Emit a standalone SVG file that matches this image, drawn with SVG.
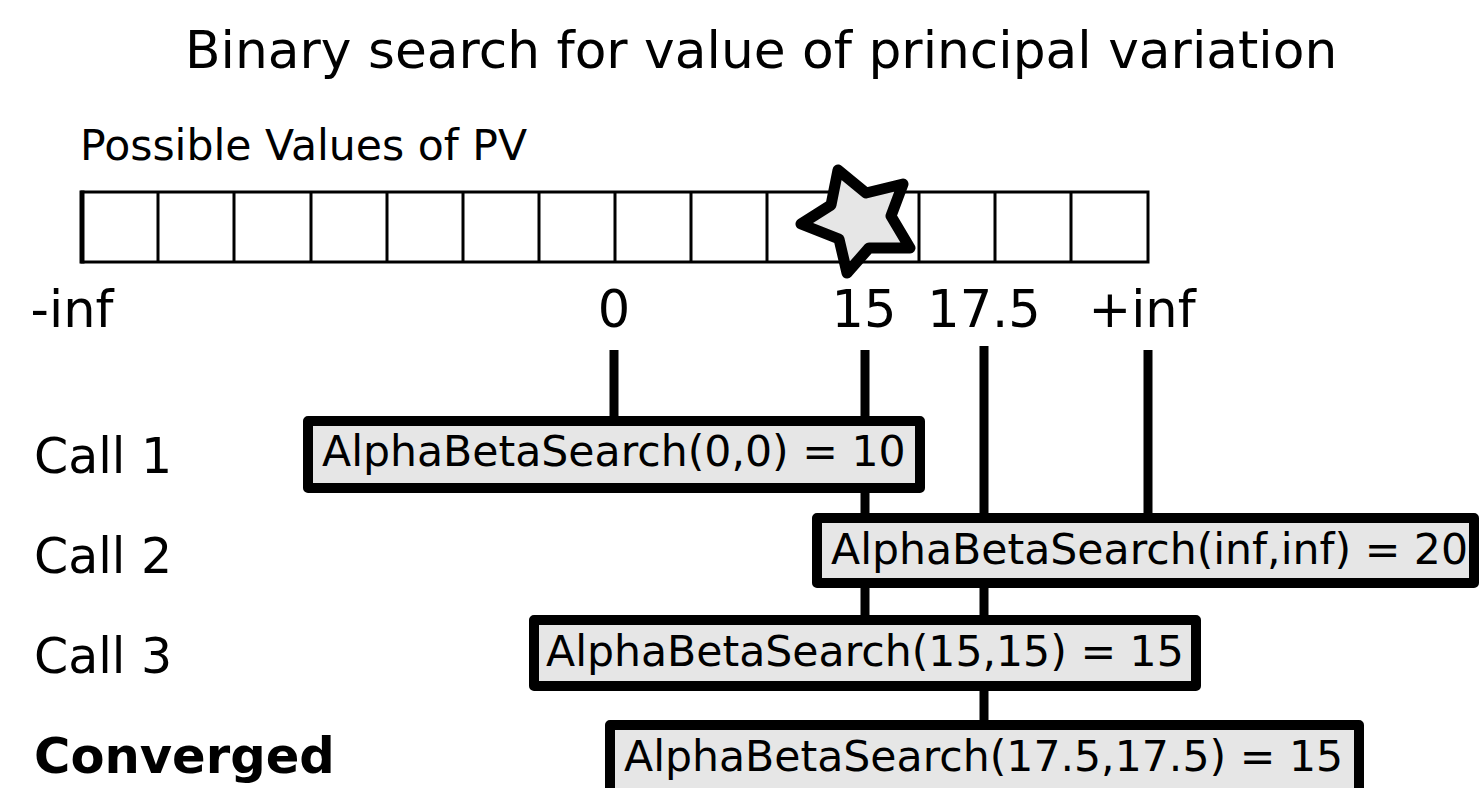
<svg xmlns="http://www.w3.org/2000/svg" width="1481" height="788" viewBox="0 0 1481 788">
<style>
text{font-family:"DejaVu Sans","Liberation Sans",sans-serif;fill:#000}
.title{font-size:51.8px}
.lbl{font-size:42.6px}
.axis{font-size:51px;text-anchor:middle}
.call{font-size:49px}
.conv{font-size:49.6px;font-weight:bold}
.box rect{fill:#e6e6e6;stroke:#000;stroke-width:10;stroke-linejoin:round}
.box text{font-size:42.6px}
.cell{fill:none;stroke:#000;stroke-width:3}
.conn line{stroke:#000;stroke-width:9}
</style>
<rect width="1481" height="788" fill="#fff"/>
<text class="title" x="185" y="68">Binary search for value of principal variation</text>
<text class="lbl" x="80" y="160">Possible Values of PV</text>
<g id="bar">
<rect class="cell" x="82" y="192" width="1066" height="70"/>
<line x1="82" y1="190.5" x2="82" y2="263.5" stroke="#000" stroke-width="5"/>
<path class="cell" d="M158 192V262M234 192V262M311 192V262M387 192V262M463 192V262M539 192V262M615 192V262M691 192V262M767 192V262M843 192V262M919 192V262M995 192V262M1071 192V262"/>
</g>
<g id="star">
<path d="M838 170L866 193L903 184L891 216L910 248L869 248L847 273L839 239L801 224L831 205Z" fill="#e6e6e6" stroke="#000" stroke-width="11" stroke-linejoin="round"/>
</g>
<text class="axis" x="72" y="327">-inf</text>
<text class="axis" x="614" y="327">0</text>
<text class="axis" x="864" y="327">15</text>
<text class="axis" x="984" y="327">17.5</text>
<text class="axis" x="1142" y="327">+inf</text>
<g id="connectors" class="conn">
<line x1="614" y1="350" x2="614" y2="421"/>
<line x1="865" y1="350" x2="865" y2="619"/>
<line x1="984" y1="346" x2="984" y2="724"/>
<line x1="1148" y1="350" x2="1148" y2="517"/>
</g>
<text class="call" x="34" y="473">Call 1</text>
<text class="call" x="34" y="573">Call 2</text>
<text class="call" x="34" y="673">Call 3</text>
<text class="conv" x="34" y="773">Converged</text>
<g id="call1" class="box">
<rect x="308" y="421" width="612" height="67"/>
<text x="322" y="466">AlphaBetaSearch(0,0) = 10</text>
</g>
<g id="call2" class="box">
<rect x="817" y="518" width="657" height="65"/>
<text x="831" y="564">AlphaBetaSearch(inf,inf) = 20</text>
</g>
<g id="call3" class="box">
<rect x="534" y="620" width="662" height="66"/>
<text x="546" y="666">AlphaBetaSearch(15,15) = 15</text>
</g>
<g id="conv" class="box">
<rect x="610" y="725" width="749" height="70"/>
<text x="624" y="771">AlphaBetaSearch(17.5,17.5) = 15</text>
</g>
</svg>
